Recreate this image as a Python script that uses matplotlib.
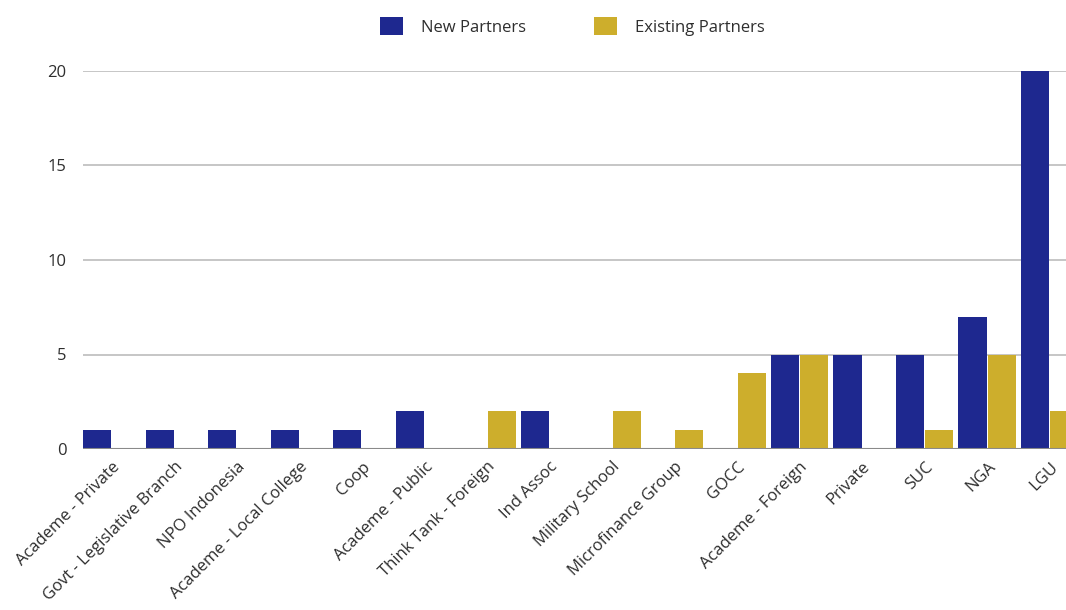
import numpy as np
import matplotlib
matplotlib.use("Agg")
import matplotlib.pyplot as plt
from matplotlib.patches import Patch

# Data
categories = [
    "Academe - Private", "Govt - Legislative Branch", "NPO Indonesia",
    "Academe - Local College", "Coop", "Academe - Public",
    "Think Tank - Foreign", "Ind Assoc", "Military School",
    "Microfinance Group", "GOCC", "Academe - Foreign", "Private",
    "SUC", "NGA", "LGU",
]
new_partners = [1, 1, 1, 1, 1, 2, 0, 2, 0, 0, 0, 5, 5, 5, 7, 20]
existing_partners = [0, 0, 0, 0, 0, 0, 2, 0, 2, 1, 4, 5, 0, 1, 5, 2]
y_ticks = [0, 5, 10, 15, 20]

NAVY = "#1e288f"
GOLD = "#cdae2c"
TEXT = "#2e2e2e"

plt.rcParams['font.family'] = ['Open Sans', 'DejaVu Sans']

fig = plt.figure(figsize=(10.66, 6.10), dpi=100)
ax = fig.add_axes([83 / 1066, 1 - 449 / 610, 1 - 83 / 1066, (449 - 71) / 610])

x = np.arange(len(categories))
w = 0.45
ax.bar(x - 0.235, new_partners, width=w, color=NAVY, zorder=3)
ax.bar(x + 0.235, existing_partners, width=w, color=GOLD, zorder=3)

ax.set_xlim(-0.464, 15.26)
ax.set_ylim(0, 20)
ax.set_yticks(y_ticks)
ax.set_yticklabels([str(v) for v in y_ticks], fontsize=12, color=TEXT)
ax.grid(axis="y", color="#bcbcbc", linewidth=1.2, zorder=0)
ax.axhline(0, color="#8a8a8a", linewidth=1.5, zorder=4)
ax.tick_params(axis="y", length=0, pad=12)
ax.tick_params(axis="x", length=0, pad=7)

ax.set_xticks(x)
ax.set_xticklabels(categories, rotation=45, ha="right", rotation_mode="anchor",
                   fontsize=12, color=TEXT)

for s in ax.spines.values():
    s.set_visible(False)

handles = [Patch(facecolor=NAVY, label="New Partners"),
           Patch(facecolor=GOLD, label="Existing Partners")]
fig.legend(handles=handles, loc="center", bbox_to_anchor=(0.537, 0.957), ncol=2,
           frameon=False, fontsize=12, handlelength=1.35, handleheight=1.35,
           handletextpad=1.1, columnspacing=4.1, labelcolor=TEXT)

fig.savefig("out.png", dpi=100)
